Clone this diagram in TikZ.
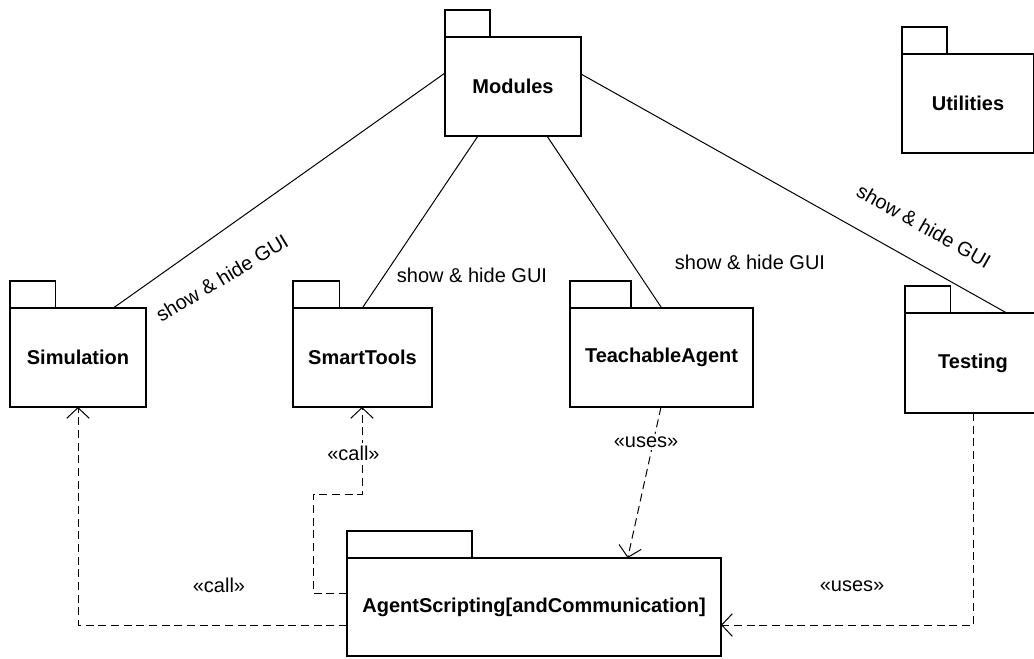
\documentclass[tikz,border=0pt]{standalone}
\usepackage{fontspec}
\setmainfont{Liberation Sans}
\usetikzlibrary{arrows.meta,calc}

\tikzset{
  pkgbody/.style={draw, rectangle, line width=1.3pt, inner sep=0pt, outer sep=0pt,
    font=\bfseries\fontsize{15}{18}\selectfont},
  pkgtab/.style={line width=1.3pt},
  assoc/.style={line width=0.75pt},
  depend/.style={line width=0.75pt, dash pattern=on 6pt off 3.5pt,
    -{Straight Barb[length=8pt,width=17pt]}},
  lbl/.style={font=\fontsize{15}{18}\selectfont, inner sep=1pt},
  stereo/.style={lbl, fill=white, inner sep=2pt},
}

% UML package: name, left, top of body, width, height, tab width, title
\newcommand{\umlpkg}[7]{%
  \node[pkgbody, minimum width=#4*0.75pt, minimum height=#5*0.75pt]
    (#1) at (#2+#4/2, #3+#5/2) {#7};
  \draw[pkgtab] (#1.north west) rectangle ++(#6,-27);
}

\begin{document}
\begin{tikzpicture}[x=0.75pt, y=-0.75pt]
\useasboundingbox (0,0) rectangle (1034,658);
\clip (0,0) rectangle (1034,658);

% packages
\umlpkg{mod}{445}{37}{136}{99}{45}{Modules}
\umlpkg{util}{902}{54}{132}{99}{45}{Utilities}
\umlpkg{sim}{10}{308}{136}{99}{45.5}{Simulation}
\umlpkg{smart}{293}{308}{139}{99}{46.5}{SmartTools}
\umlpkg{teach}{570}{308}{183}{99}{61}{TeachableAgent}
\umlpkg{test}{905}{313}{136}{100}{45.5}{Testing}
\umlpkg{agent}{347}{558}{374}{98}{125}{AgentScripting[andCommunication]}

% show & hide GUI associations
\draw[assoc] ($(mod.north west)+(0,36)$) -- ($(sim.north west)+(103.3,0)$);
\draw[assoc] ($(mod.south west)+(33,0)$) -- ($(smart.north west)+(69.3,0)$);
\draw[assoc] ($(mod.south west)+(102,0)$) -- ($(teach.north west)+(91.7,0)$);
\draw[assoc] ($(mod.north east)+(0,37)$) -- ($(test.north west)+(101.7,0)$);

% dependencies
\draw[depend] ($(agent.north west)+(0,67)$) -| ($(sim.south west)+(68,0)$);
\draw[depend] ($(agent.north west)+(0,35)$) -- ++(-34,0) -- ++(0,-99)
  -| ($(smart.south west)+(69,0)$);
\draw[depend] ($(teach.south west)+(91,0)$) -- ($(agent.north west)+(280.7,0)$);
\draw[depend] ($(test.south west)+(68.3,0)$) |- ($(agent.north east)+(0,67)$);

% labels
\node[lbl, rotate=31] (l1) at (222,278) {show \& hide GUI};
\node[lbl] (l2) at (472,275) {show \& hide GUI};
\node[lbl] (l3) at (750,262.5) {show \& hide GUI};
\node[lbl, rotate=-29.5] (l4) at (924,226) {show \& hide GUI};
\node[lbl] (c1) at (219,585) {«call»};
\node[stereo] (c2) at (353.5,453) {«call»};
\node[stereo] (u1) at (646,442) {«uses»};
\node[lbl] (u2) at (852,586) {«uses»};
\end{tikzpicture}
\end{document}
